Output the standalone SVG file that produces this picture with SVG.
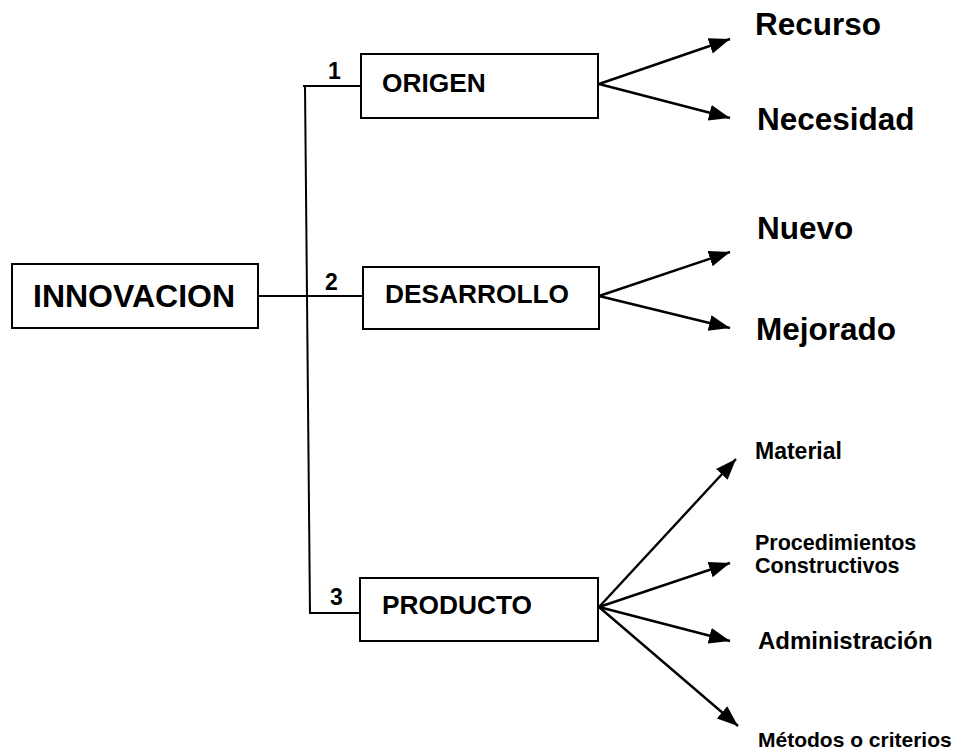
<svg xmlns="http://www.w3.org/2000/svg" width="958" height="750" viewBox="0 0 958 750">
<defs>
<marker id="ah" markerUnits="userSpaceOnUse" markerWidth="24" markerHeight="18" refX="21" refY="8" orient="auto">
<path d="M0,0 L21,8 L0,16 z" fill="#000"/>
</marker>
<style>
.box{fill:#fff;stroke:#000;stroke-width:2}
.ln{fill:none;stroke:#000;stroke-width:2}
.ar{fill:none;stroke:#000;stroke-width:2.4;marker-end:url(#ah)}
text{font-family:"Liberation Sans",Arial,sans-serif;font-weight:bold;fill:#000}
.t1{font-size:32px}
.t2{font-size:26.3px}
.t3{font-size:31.5px}
.t4{font-size:21.5px}
.num{font-size:23px}
</style>
</defs>
<rect width="958" height="750" fill="#fff"/>
<g id="connectors">
<line class="ln" x1="258" y1="296" x2="363" y2="296"/>
<line class="ln" x1="305" y1="86" x2="310" y2="614"/>
<line class="ln" x1="303" y1="86" x2="361" y2="86"/>
<line class="ln" x1="310" y1="613" x2="360" y2="613"/>
<line class="ar" x1="599" y1="84" x2="730" y2="39"/>
<line class="ar" x1="599" y1="84" x2="730" y2="118"/>
<line class="ar" x1="599" y1="296" x2="730" y2="252"/>
<line class="ar" x1="599" y1="296" x2="730" y2="328"/>
<line class="ar" x1="599" y1="607" x2="736" y2="459"/>
<line class="ar" x1="599" y1="607" x2="730" y2="563"/>
<line class="ar" x1="599" y1="607" x2="730" y2="641"/>
<line class="ar" x1="599" y1="607" x2="738" y2="726"/>
</g>
<g id="innovacion">
<rect class="box" x="12" y="264" width="246" height="64"/>
<text class="t1" x="33" y="307">INNOVACION</text>
</g>
<g id="origen">
<rect class="box" x="361" y="54" width="237" height="64"/>
<text class="t2" x="382" y="92">ORIGEN</text>
<text class="num" x="328" y="79">1</text>
</g>
<g id="desarrollo">
<rect class="box" x="363" y="267" width="236" height="62"/>
<text class="t2" x="385" y="303">DESARROLLO</text>
<text class="num" x="325" y="290">2</text>
</g>
<g id="producto">
<rect class="box" x="360" y="578" width="238" height="63"/>
<text class="t2" x="382" y="614">PRODUCTO</text>
<text class="num" x="330" y="605">3</text>
</g>
<g id="recurso"><text class="t3" x="755" y="35">Recurso</text></g>
<g id="necesidad"><text class="t3" x="757" y="130">Necesidad</text></g>
<g id="nuevo"><text class="t3" x="757" y="239">Nuevo</text></g>
<g id="mejorado"><text class="t3" x="756" y="340">Mejorado</text></g>
<g id="material"><text class="t4" x="755" y="459" style="font-size:23px">Material</text></g>
<g id="procedimientos"><text class="t4" x="755" y="550">Procedimientos</text><text class="t4" x="755" y="573">Constructivos</text></g>
<g id="administracion"><text class="t4" x="758" y="649" style="font-size:24px">Administración</text></g>
<g id="metodos"><text class="t4" x="758" y="747" style="font-size:21px">Métodos o criterios</text></g>
</svg>
